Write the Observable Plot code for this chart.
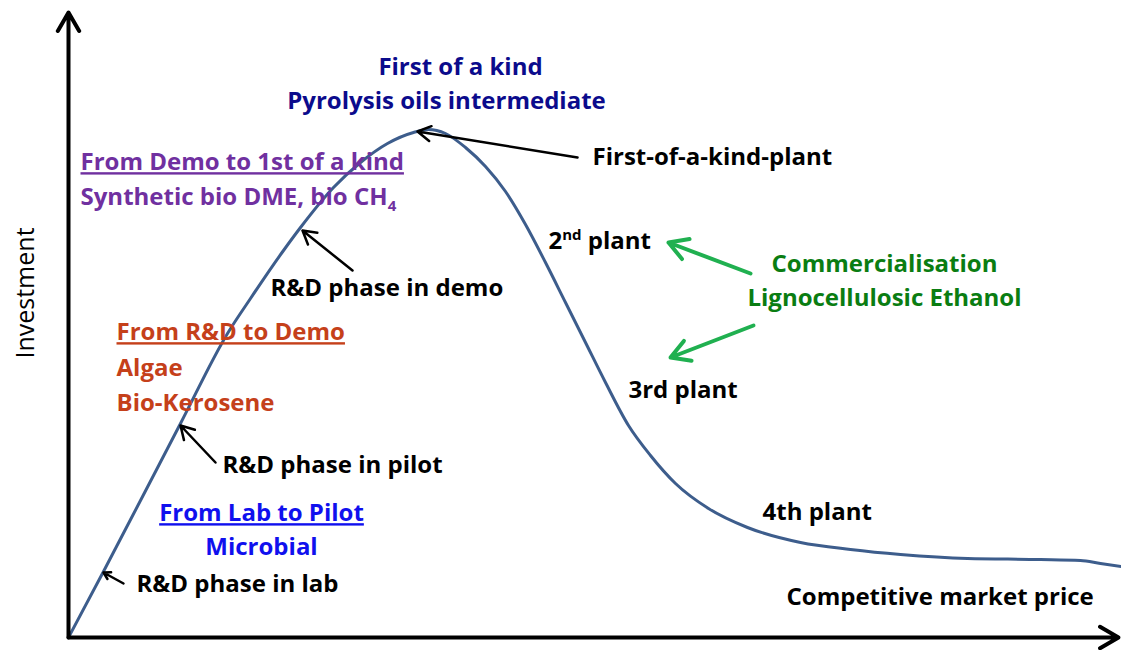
<!DOCTYPE html>
<html>
<head>
<meta charset="utf-8">
<script src="https://cdn.jsdelivr.net/npm/d3@7"></script>
<script src="https://cdn.jsdelivr.net/npm/@observablehq/plot@0.6"></script>
<style>
  html, body { margin: 0; padding: 0; background: #fff; }
  #chart svg { display: block; }
</style>
</head>
<body>
<div id="chart"></div>
<script>
// Curve: time (x) vs investment (y), arbitrary units
const curveX = [0, 35, 72, 112, 159, 182, 215, 232, 265, 292, 319, 345, 360, 377, 397, 417, 437, 457, 477, 497, 517, 537, 560, 582, 607, 640, 679, 732, 782, 832, 899, 972, 1012, 1032, 1053];
const curveY = [0, 66, 137, 214, 304, 339, 387, 410, 450, 475, 494, 505, 508, 504, 490, 471, 446, 413, 375, 335, 295, 255, 212, 182, 154, 129, 110, 95, 88, 83, 79, 78, 77, 74, 71];

// Axis arrows
const axisX1 = [0, 0], axisY1 = [0, 0], axisX2 = [0, 1050], axisY2 = [625, 0];

// Annotation arrows
const arrowX1 = [509, 284, 147, 55, 682, 685];
const arrowY1 = [480, 367, 175, 54, 364, 312];
const arrowX2 = [349, 234, 112, 35, 600, 602];
const arrowY2 = [506, 407, 212, 65, 395, 280];
const arrowKind = ["black", "black", "black", "black", "green", "green"];

// Labels
const labelText = [
  "First of a kind", "Pyrolysis oils intermediate",
  "From Demo to 1st of a kind", "Synthetic bio DME, bio CH4",
  "R&D phase in demo",
  "From R&D to Demo", "Algae", "Bio-Kerosene",
  "R&D phase in pilot",
  "From Lab to Pilot", "Microbial",
  "R&D phase in lab",
  "First-of-a-kind-plant", "2nd plant",
  "Commercialisation", "Lignocellulosic Ethanol",
  "3rd plant", "4th plant", "Competitive market price"
];
const labelX = [392, 378, 12, 12, 202, 48, 48, 48, 154, 193, 193, 68, 524, 480, 816, 816, 560, 694, 718];
const labelY = [570, 536, 475, 440, 349, 305, 269, 234, 172, 124, 90, 53, 480, 396, 373, 339, 247, 125, 40];
const labelColor = ["#0b0b8c", "#0b0b8c", "#7030a0", "#7030a0", "#000000", "#c5401a", "#c5401a", "#c5401a",
  "#000000", "#1010ee", "#1010ee", "#000000", "#000000", "#000000", "#0a7d12", "#0a7d12", "#000000", "#000000", "#000000"];
const labelAnchor = ["middle", "middle", "start", "start", "start", "start", "start", "start", "start",
  "middle", "middle", "start", "start", "start", "middle", "middle", "start", "start", "start"];
const underlined = ["From Demo to 1st of a kind", "From R&D to Demo", "From Lab to Pilot"];

const curve = curveX.map((x, i) => ({x, y: curveY[i]}));
const axes = axisX1.map((x1, i) => ({x1, y1: axisY1[i], x2: axisX2[i], y2: axisY2[i]}));
const arrows = arrowX1.map((x1, i) => ({x1, y1: arrowY1[i], x2: arrowX2[i], y2: arrowY2[i], kind: arrowKind[i]}));
const labels = labelText.map((t, i) => ({t, x: labelX[i], y: labelY[i], c: labelColor[i], a: labelAnchor[i]}));

const FONT = "'Open Sans', Lato, sans-serif";

const plot = Plot.plot({
  width: 1121,
  height: 650,
  marginLeft: 68,
  marginRight: 0,
  marginTop: 0,
  marginBottom: 13,
  x: {domain: [0, 1053], axis: null},
  y: {domain: [0, 637], axis: null},
  style: {background: "#fff", fontFamily: FONT},
  marks: [
    Plot.line(curve, {x: "x", y: "y", curve: "monotone-x", stroke: "#3d5d8c", strokeWidth: 3}),
    Plot.arrow(axes, {x1: "x1", y1: "y1", x2: "x2", y2: "y2", stroke: "#000", strokeWidth: 4, headLength: 8, inset: 0}),
    Plot.arrow(arrows.filter(d => d.kind === "black"), {x1: "x1", y1: "y1", x2: "x2", y2: "y2", stroke: "#000", strokeWidth: 2.5, headLength: 9}),
    Plot.arrow(arrows.filter(d => d.kind === "green"), {x1: "x1", y1: "y1", x2: "x2", y2: "y2", stroke: "#20b050", strokeWidth: 4, headLength: 8}),
    ...["start", "middle"].map(a => Plot.text(labels.filter(d => d.a === a), {
      x: "x", y: "y", text: "t", fill: "c", textAnchor: a, fontSize: 24, fontWeight: "bold", fontFamily: FONT
    })),
    Plot.text(["Investment"], {frameAnchor: "left", textAnchor: "middle", dx: -43, dy: -26, rotate: -90, fontSize: 25, fontFamily: FONT, fill: "#000"})
  ]
});

document.getElementById("chart").appendChild(plot);

// Text styling: underline, superscript and subscript
d3.select(plot).selectAll("text").each(function() {
  const el = d3.select(this);
  const t = el.text();
  if (underlined.includes(t)) el.style("text-decoration", "underline");
  if (t === "2nd plant") {
    el.text("");
    el.append("tspan").text("2");
    el.append("tspan").attr("dy", -9).attr("font-size", 15).text("nd");
    el.append("tspan").attr("dy", 9).text(" plant");
  }
  if (t === "Synthetic bio DME, bio CH4") {
    el.text("");
    el.append("tspan").text("Synthetic bio DME, bio CH");
    el.append("tspan").attr("dy", 6).attr("font-size", 15).text("4");
  }
});
</script>
</body>
</html>
